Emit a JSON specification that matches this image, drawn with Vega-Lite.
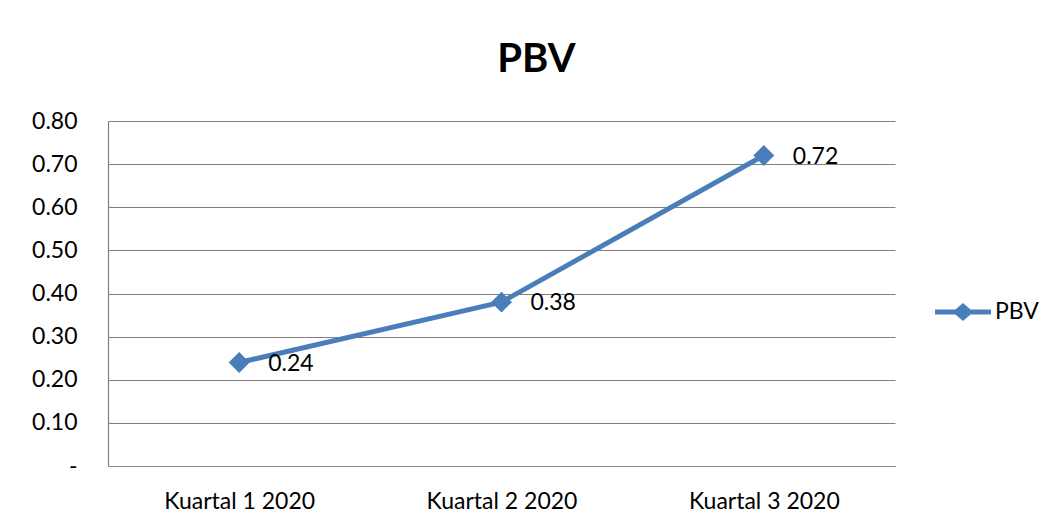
{
  "$schema": "https://vega.github.io/schema/vega-lite/v6.json",
  "autosize": "none",
  "width": 787,
  "height": 345,
  "padding": {"left": 108, "top": 121, "right": 159, "bottom": 64},
  "background": "white",
  "title": {
    "text": "PBV",
    "font": "Lato",
    "fontSize": 40,
    "fontWeight": "bold",
    "color": "black",
    "anchor": "middle",
    "frame": "group",
    "dx": 35,
    "offset": 30
  },
  "config": {
    "view": {"stroke": null},
    "font": "Lato"
  },
  "data": {
    "values": [
      {"quarter": "Kuartal 1 2020", "pbv": 0.24, "series": "PBV"},
      {"quarter": "Kuartal 2 2020", "pbv": 0.38, "series": "PBV"},
      {"quarter": "Kuartal 3 2020", "pbv": 0.72, "series": "PBV"}
    ]
  },
  "encoding": {
    "x": {
      "field": "quarter",
      "type": "ordinal",
      "sort": null,
      "scale": {"type": "point", "padding": 0.5},
      "axis": {
        "title": null,
        "labelAngle": 0,
        "labelFont": "Lato",
        "labelFontSize": 23,
        "labelColor": "black",
        "labelPadding": 24,
        "ticks": false,
        "tickSize": 0,
        "grid": false,
        "domainColor": "#868686",
        "domainWidth": 1
      }
    },
    "y": {
      "field": "pbv",
      "type": "quantitative",
      "scale": {"domain": [0, 0.8], "nice": false, "zero": true},
      "axis": {
        "title": null,
        "values": [0, 0.1, 0.2, 0.3, 0.4, 0.5, 0.6, 0.7, 0.8],
        "labelExpr": "datum.value == 0 ? '-' : format(datum.value, '.2f')",
        "labelFont": "Lato",
        "labelFontSize": 23,
        "labelColor": "black",
        "labelPadding": 31,
        "ticks": false,
        "tickSize": 0,
        "grid": true,
        "gridColor": "#808080",
        "gridWidth": 1.2,
        "domainColor": "#808080",
        "domainWidth": 1.2
      }
    }
  },
  "layer": [
    {
      "mark": {"type": "line", "strokeWidth": 5, "strokeCap": "round", "strokeJoin": "round"},
      "encoding": {
        "color": {
          "field": "series",
          "type": "nominal",
          "scale": {"range": ["#4a7ebb"]},
          "legend": {
            "title": null,
            "orient": "none",
            "legendX": 827,
            "legendY": 163,
            "padding": 0,
            "symbolType": "M-1,-0.09L-0.27,-0.09L0,-0.32L0.27,-0.09L1,-0.09L1,0.09L0.27,0.09L0,0.32L-0.27,0.09L-1,0.09Z",
            "symbolSize": 3136,
            "symbolFillColor": "#4a7ebb",
            "symbolStrokeWidth": 0,
            "labelFont": "Lato",
            "labelFontSize": 23,
            "labelColor": "black",
            "labelOffset": 4
          }
        }
      }
    },
    {
      "mark": {"type": "point", "shape": "diamond", "filled": true, "size": 440, "opacity": 1},
      "encoding": {
        "color": {"field": "series", "type": "nominal", "legend": null}
      }
    },
    {
      "mark": {"type": "text", "align": "left", "baseline": "middle", "dx": 29, "dy": 1, "font": "Lato", "fontSize": 23, "color": "black"},
      "encoding": {
        "text": {"field": "pbv", "type": "quantitative", "format": ".2f"}
      }
    }
  ]
}
